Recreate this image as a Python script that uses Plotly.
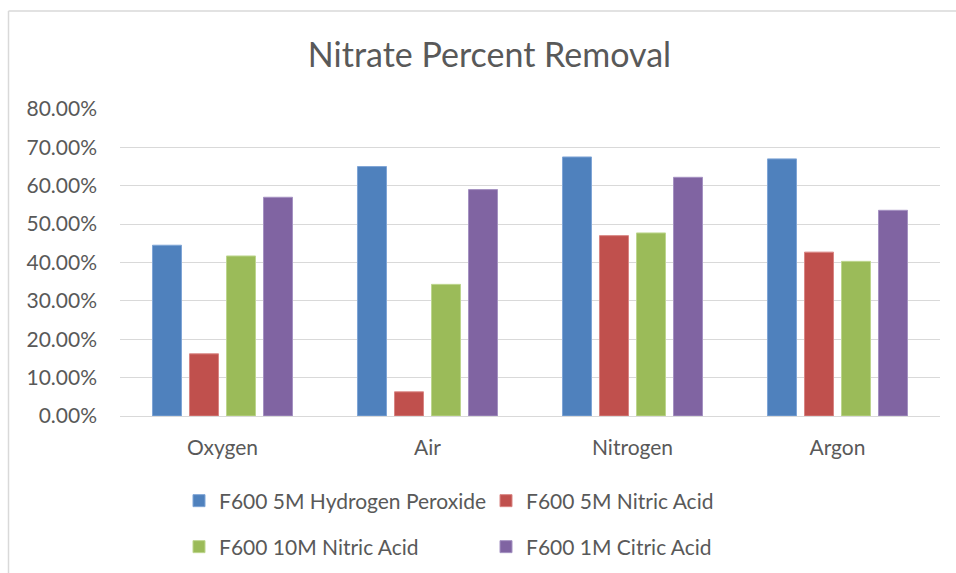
import plotly.graph_objects as go

categories = ["Oxygen", "Air", "Nitrogen", "Argon"]
series_names = [
    "F600 5M Hydrogen Peroxide",
    "F600 5M Nitric Acid",
    "F600 10M Nitric Acid",
    "F600 1M Citric Acid",
]
h2o2_5m = [0.445, 0.650, 0.675, 0.670]
nitric_5m = [0.162, 0.063, 0.470, 0.427]
nitric_10m = [0.417, 0.343, 0.477, 0.403]
citric_1m = [0.570, 0.590, 0.622, 0.536]
series_values = [h2o2_5m, nitric_5m, nitric_10m, citric_1m]
colors = ["#4F81BD", "#C0504D", "#9BBB59", "#8064A2"]
line_colors = ["#7FA5D6", "#D98583", "#BDD68E", "#A592C2"]
legend_ids = ["legend", "legend", "legend2", "legend2"]
y_ticks = [0, 0.1, 0.2, 0.3, 0.4, 0.5, 0.6, 0.7, 0.8]

FONT = "Lato"
GRAY = "#595959"
W, H = 956, 573

fig = go.Figure()
for name, vals, c, lc, lg in zip(series_names, series_values, colors, line_colors, legend_ids):
    fig.add_trace(go.Bar(
        x=categories, y=vals, name=name,
        marker=dict(color=c, line=dict(color=lc, width=1)),
        legend=lg,
    ))

legend_common = dict(
    orientation="h",
    xref="container", yref="container",
    xanchor="left", yanchor="middle",
    font=dict(family=FONT, size=21, color=GRAY),
    entrywidth=262, entrywidthmode="pixels",
    bgcolor="rgba(0,0,0,0)",
    itemclick=False,
)

fig.update_layout(
    width=W, height=H,
    margin=dict(l=120, r=16, t=109, b=157),
    paper_bgcolor="white", plot_bgcolor="white",
    title=dict(
        text="Nitrate Percent Removal",
        font=dict(family=FONT, size=34, color=GRAY),
        x=489.5 / W, xanchor="center", xref="container",
        y=1 - 55 / H, yanchor="middle", yref="container",
    ),
    barmode="group",
    bargap=0.278,
    bargroupgap=0.216,
    showlegend=True,
    legend=dict(x=179 / W, y=1 - 501 / H, **legend_common),
    legend2=dict(x=179 / W, y=1 - 547 / H, **legend_common),
    xaxis=dict(
        showgrid=False, showline=False, zeroline=False,
        tickfont=dict(family=FONT, size=21, color=GRAY),
        ticks="", ticklabelstandoff=17,
    ),
    yaxis=dict(
        range=[0, 0.8], tickvals=y_ticks, tickformat=".2%",
        showgrid=True, gridcolor="#D9D9D9", gridwidth=1,
        zeroline=True, zerolinecolor="#D9D9D9", zerolinewidth=1,
        showline=False,
        tickfont=dict(family=FONT, size=21, color=GRAY),
        ticks="", ticklabelstandoff=22,
    ),
    shapes=[
        dict(type="line", xref="paper", yref="paper",
             x0=(8.5 - 120) / 820, x1=(8.5 - 120) / 820,
             y0=(416 - 11) / 307, y1=(416 - 580) / 307,
             line=dict(color="#D9D9D9", width=1.5)),
        dict(type="line", xref="paper", yref="paper",
             x0=(8.5 - 120) / 820, x1=(960 - 120) / 820,
             y0=(416 - 11) / 307, y1=(416 - 11) / 307,
             line=dict(color="#D9D9D9", width=1.5)),
    ],
)

fig.write_html(
    "out.html",
    config={"displayModeBar": False},
    post_script="document.body.style.margin='0';document.body.style.overflow='hidden';",
)
